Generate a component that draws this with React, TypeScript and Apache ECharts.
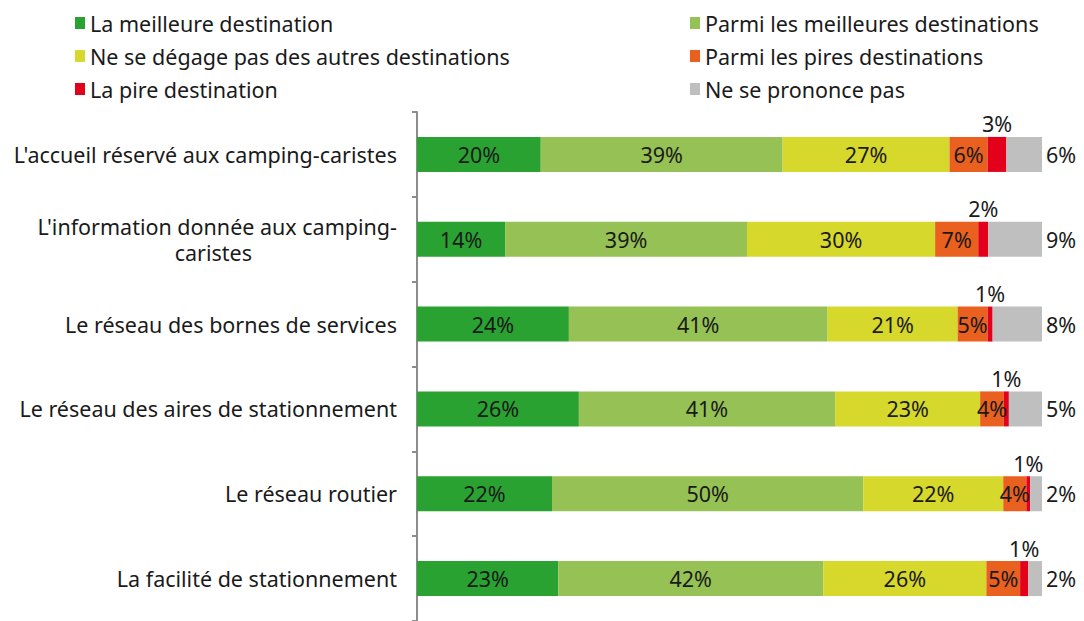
import React, { useEffect, useRef } from "react";
import * as echarts from "echarts";

const categories = [
  "L'accueil réservé aux camping-caristes",
  "L'information donnée aux camping-\ncaristes",
  "Le réseau des bornes de services",
  "Le réseau des aires de stationnement",
  "Le réseau routier",
  "La facilité de stationnement",
];

const seriesNames = [
  "La meilleure destination",
  "Parmi les meilleures destinations",
  "Ne se dégage pas des autres destinations",
  "Parmi les pires destinations",
  "La pire destination",
  "Ne se prononce pas",
];

const best = [19.8, 14.1, 24.3, 25.9, 21.6, 22.6];
const amongBest = [38.7, 38.7, 41.4, 41.0, 49.8, 42.4];
const neutral = [26.7, 30.1, 20.8, 23.2, 22.4, 26.1];
const amongWorst = [6.1, 6.9, 4.8, 3.8, 3.7, 5.4];
const worst = [3.0, 1.6, 0.8, 0.8, 0.6, 1.3];
const noOpinion = [5.7, 8.6, 7.9, 5.3, 1.9, 2.2];

const colors = ["#29a232", "#96c155", "#d6d82b", "#e9601f", "#e3001b", "#bfbfbf"];

const FONT = "Noto Sans";
const TEXT = "#1a1a1a";
const FS = 21.5;

export default function App() {
  const ref = useRef<HTMLDivElement>(null);
  useEffect(() => {
    if (!ref.current) return;
    const chart = echarts.init(ref.current, null, { renderer: "svg" });
    const data = [best, amongBest, neutral, amongWorst, worst, noOpinion];
    const labelFmt = (p: any) => Math.round(p.value) + "%";
    const series = data.map((d, i) => {
      let label: any = {
        show: true,
        position: "inside",
        formatter: labelFmt,
        fontSize: FS,
        fontFamily: FONT,
        color: TEXT,
      };
      if (i === 4) label = { ...label, position: "top", distance: 2 };
      if (i === 5) label = { ...label, position: "right", distance: 4 };
      return {
        name: seriesNames[i],
        type: "bar",
        stack: "total",
        data: d,
        barWidth: 35,
        itemStyle: { color: colors[i] },
        label,
        emphasis: { disabled: true },
      };
    });
    const legendText = { fontSize: FS, fontFamily: FONT, color: TEXT, lineHeight: 21 };
    const legendBase = {
      orient: "vertical",
      top: 7,
      itemWidth: 10,
      itemHeight: 12,
      itemGap: 11,
      icon: "rect",
      textStyle: legendText,
      selectedMode: false,
    };
    chart.setOption({
      animation: false,
      color: colors,
      legend: [
        { ...legendBase, data: [seriesNames[0], seriesNames[2], seriesNames[4]], left: 70 },
        { ...legendBase, data: [seriesNames[1], seriesNames[3], seriesNames[5]], left: 685 },
      ],
      grid: { left: 417, right: 42, top: 112, height: 514, containLabel: false },
      xAxis: { type: "value", min: 0, max: 100, show: false },
      yAxis: {
        type: "category",
        inverse: true,
        data: categories,
        axisLine: { show: true, lineStyle: { color: "#8c8c8c", width: 2 } },
        axisTick: { show: true, length: 5, lineStyle: { color: "#8c8c8c", width: 2 } },
        axisLabel: {
          margin: 20,
          fontSize: FS,
          fontFamily: FONT,
          color: TEXT,
          formatter: (v: string) => {
            if (v.indexOf("\n") >= 0) {
              const [a, b] = v.split("\n");
              return "{a|" + a + "}\n{b|" + b + "}";
            }
            return v;
          },
          rich: {
            a: { fontSize: FS, fontFamily: FONT, color: TEXT, lineHeight: 26 },
            b: { fontSize: FS, fontFamily: FONT, color: TEXT, lineHeight: 26, padding: [0, 145, 0, 0] },
          },
        },
        splitLine: { show: false },
      },
      series,
    });
    return () => chart.dispose();
  }, []);
  return <div ref={ref} style={{ width: 1084, height: 621, position: "absolute", left: 0, top: 0 }} />;
}
